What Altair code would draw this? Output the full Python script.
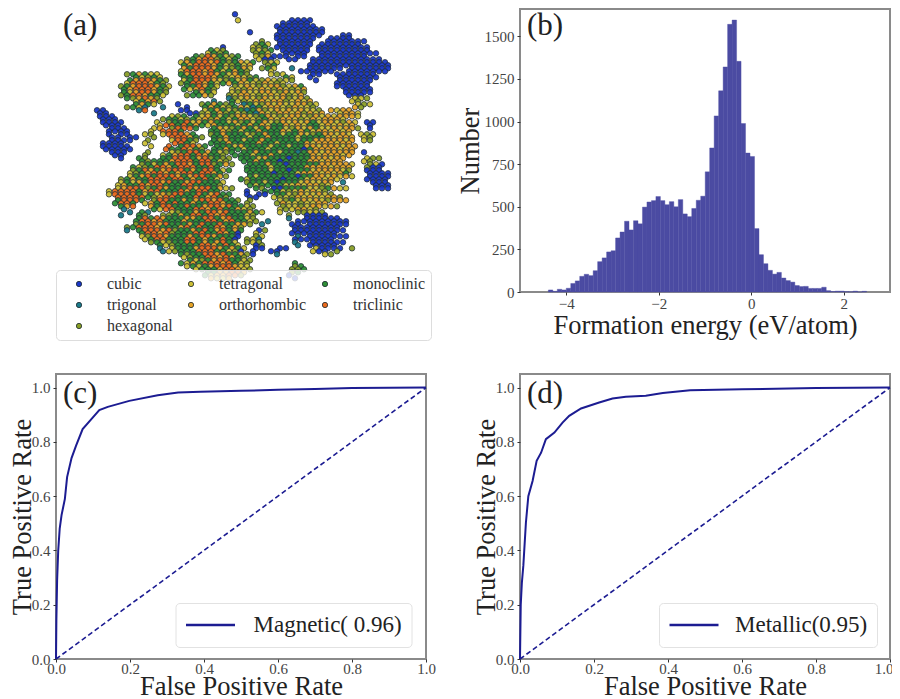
import altair as alt
import pandas as pd

SERIF = "Liberation Serif"

# ---- panel (a): class of each dot, row by row
CLASS_KEYS = {"b": "cubic", "t": "trigonal", "h": "hexagonal", "y": "tetragonal",
              "o": "orthorhombic", "g": "monoclinic", "r": "triclinic"}
LEGEND_ORDER = ["cubic", "tetragonal", "monoclinic", "trigonal", "orthorhombic", "triclinic", "hexagonal"]
LEGEND_COLORS = ["#1a37c8", "#cdbf35", "#2f8f36", "#1b7b8a", "#e6a326", "#ea6a1c", "#8a9f26"]
SCATTER_ROWS = [
    "                        b",
    "                        y        bbbb",
    "                               bbbbbbb",
    "                          b    bbbbbbbb",
    "                               bbbbbbb  bbbb",
    "                           hgy bbbbbb bbbbbbb",
    "                    gyh    hyhg bbbbb bbbbbbbbb",
    "                 ghrogyhg  yhobbb bb  bbbbbbbb",
    "               yogrrorghgoyg hyy     bbbbbbbbbbbbb",
    "               ogrrrogyhgoy hgy  t  bbbbbb bbbbbbb",
    "      hgogyy   gorrorogyogh   yhy    bb  bbbbbbb",
    "      gorrogh  ygrrroyhgyogyhoyhyh   b   bbbbbb",
    "     hgorrrogy  ggrogy  hyoyhyoohyog     bbbbbb",
    "     gyorrogh    gogy  yhoyyooyhoyoh      bbbbb",
    "      ghoroh           thyoyhoyyohyoh       yyh",
    "       gogy   b   hgoghg tgyhoyoyyoohy      yhy",
    " bb     tr     bb  ygogyhgtgohyoyoyoyyh oyoo",
    " bbb         yhg gyogyghooyhgoyhyooyhoyoyoooy",
    "  bbbb     y hggryogoggyohgygoyhoyoyogyooyhoy bb",
    "   bbb    yo hrrrg  goyhgogygoggyhoyogyyoyooh b",
    "   b bb  yh yrrrog  hgogggyhgoggyggoyhgooyoy yhy",
    "   bbbb  h   yrrgh  ghoggyggogggggyggoooooyo yh",
    "  bbbbb   y  r grrog gggyoggggyggyggooyoooyoo",
    "   bbb   h   yhgrrgogyhg ggogggyggtgooyooooo b",
    "     b  gh  ggrrrgorhghh gggyogggbgggoooyoo   yhh",
    "        hgygogrrogrrhgoh  gggoggbgggggoooooy  hyb",
    "       hgrogorrrgogrrgyg  ggggyggbgggyooooyh  bbb",
    "      ygorgrrrogorrggoh   gyggggggbggooyoyoy  bbbb",
    "     ygyogrrorggorrgggy   hggygbgggyoyyoo t    bbb",
    "    yorrrhgrogggrorrgoyh   gh bbggggyyhgoyy    bbb",
    "   yrrrrgygyohrrggrgorgg  b bb ggyhoyyoyh",
    "    grrrg hrrggogorrorggh h    yhgyoyoyhooo",
    "     gor  ogrrggrggorrorggyh    hyyhyooyoh",
    "      t gt   yhggogrrorgggogy  y  hhyyh",
    "        grgrogggoogrrgorggyh     t  bbbbbb",
    "       hgrrorgggogrggrggooh t    bb bbbbbbb",
    "      t grrrorhggogrgorgog  bh    bbbbbbbbb",
    "        yhrrogggogrrogggb  hy     t bbbbbbb",
    "          hgyhggrrgogorgy hyh     t  bbbbbb",
    "           t ygggorrrogogy bb  bb    ybbbb h",
    "               ghggrrorggohb   t       yh",
    "                gyhgorrggyh",
    "                ygygorrroyy       hg",
    "                   ggoorro       hg",
    "                    oyyo          b",
]
# a second reading of the same clouds, half a cell lower
SCATTER_ROWS_2 = [
    "",
    "                                bbbbb",
    "                               bbbbbbbb",
    "                               bbbbbbbb   bb",
    "                            h  bbbbbb  bbbbbbb",
    "                      b    yhg bbbbbb bbbbbbbbb",
    "                   yghg    hgy  bbbb  bbbbbbbbbb",
    "                hgorrhgyg   ybb  bb  bbbbbbbbbbbb",
    "               gorrrogyhgyo  hg     bbbbbbbbbbbbbb",
    "               yrrrorgygogh   y    bbbbbb  bbbbbbb",
    "       gyhgy   ggrrroghyoyhg    gy  b    bbbbbbb",
    "      yrrrogh  hgrrogygogoyyhoyhy        bbbbbb",
    "     gorrrogh  gyorgh  yyhoyoyhoyhyo      bbbbb",
    "     hgrroggy   hggoh  hyooyhyoyohyo       bbb",
    "       ygorh        t  gyhyooyoohyoyo      yh",
    "      hgyt  t   b  gogyhgoytgyooyhoyyh      oh",
    " bb       t     bbhygohgyhgtoyhooyohoyo  yooy",
    "  bbb       hggyhgyohogygooyhgoyooyhyoyoooy",
    "  bbb      yrrgrgogyogggygogoyggoyoyggyoyoyo  b",
    "   bbbb   y rrrg    ggohgyggogggoygogyooyoyo",
    "   bb bb  h  rrrogh ggogggyggoggggyggggoyooo yh",
    "  bbbb   y    rrgy  gggoggggoggyggggoyoooyoo",
    "  bbbbb     rggrogh ggoggygggygggggbgooooyoo",
    "    bb   h  ygorrgroggh gggyggoggggggoyoooyo",
    "        ghgggorrrgrrgyh  ggogggbggggooyooo   yh",
    "       gyhgrrogrrrggrg    ggggygggggooooyooo  hbb",
    "      yhgorrogorrgrrog    ggggbgggyoooyoyog   bbbb",
    "     hgoggrrrgrrgogrgy   gygggggbgggyooyoy    bbbb",
    "    yoggrorrgggrrggggh    gyggggyyoyoohy       bbb",
    "   yrrrrgorrgggrogrrgg    b  gggyhyoyoyh",
    "    rrrrrghorrgggrgorgh   bb  yhyhoyoyyooh",
    "    grrg yogrgrggoggrrogg h    hoyyhyyoo",
    "     t    gyrrgggrrogrggoyh    yhyooyh",
    "     t  gh  hhgogrrgrorgggyh     h  bbbb",
    "       grrorgggogggrrgorggyh t    bbbbbbbbb",
    "      hgrrrogggorgrggrogoh        bbbbbbbb",
    "        grrorhgggrrggrogb  y     bbbbbbbb",
    "         ygrrgggrrgoggrgb hyt     bbbbbbb",
    "           gyhggggrrogrgy  bh     t bbbbb",
    "            tyhgggrrrggyhb b  bb     ybb h",
    "               yhggrrorogh",
    "               gyogrrrorgyh       g",
    "                 ygggorroyh      hhg",
    "                   gyoorrh       b",
]

# ---- panel (b): histogram counts, bin start and width in eV/atom
HIST_START = -4.387
HIST_WIDTH = 0.0969
HIST_COUNTS = [12, 4, 16, 12, 22, 50, 65, 92, 104, 96, 125, 178, 200, 235, 242, 317, 352, 415,
               364, 418, 400, 498, 528, 536, 560, 536, 512, 530, 500, 542, 458, 442, 490, 538,
               562, 705, 845, 1033, 1180, 1320, 1570, 1595, 1353, 988, 815, 795, 372, 219, 166,
               127, 105, 115, 82, 67, 58, 38, 32, 33, 21, 21, 21, 28, 8, 3, 5, 5, 2, 1, 5, 0, 4]

# ---- panels (c), (d): ROC curves
C_FPR = [0, 0.001, 0.003, 0.006, 0.01, 0.015, 0.024, 0.03, 0.042, 0.054, 0.072, 0.095, 0.117,
         0.14, 0.198, 0.275, 0.33, 0.39, 0.5, 0.6, 0.7, 0.8, 0.9, 1.0]
C_TPR = [0, 0.14, 0.29, 0.40, 0.48, 0.53, 0.59, 0.67, 0.74, 0.785, 0.847, 0.883, 0.917,
         0.929, 0.951, 0.972, 0.982, 0.985, 0.988, 0.992, 0.995, 0.998, 0.999, 1.0]
D_FPR = [0, 0.002, 0.005, 0.009, 0.016, 0.0225, 0.034, 0.045, 0.057, 0.07, 0.093, 0.115, 0.133,
         0.165, 0.214, 0.25, 0.286, 0.34, 0.386, 0.46, 0.6, 0.8, 1.0]
D_TPR = [0, 0.20, 0.28, 0.344, 0.503, 0.60, 0.656, 0.73, 0.76, 0.81, 0.834, 0.871, 0.896,
         0.923, 0.945, 0.96, 0.966, 0.97, 0.98, 0.99, 0.994, 0.998, 1.0]
DIAG = [0, 1]

BAR_COLOR = "#4b4ba2"
LINE_COLOR = "#1c1c92"
FRAME = "#8a8a8a"

points = []
for i in range(max(len(SCATTER_ROWS), len(SCATTER_ROWS_2))):
    row1 = SCATTER_ROWS[i] if i < len(SCATTER_ROWS) else ""
    row2 = SCATTER_ROWS_2[i] if i < len(SCATTER_ROWS_2) else ""
    for j, ch in enumerate(row1):
        if ch != " ":
            points.append({"px": 90 + 6 * j + (3 if i % 2 else 0), "py": 13.3 + 6 * i,
                           "cls": CLASS_KEYS[ch]})
    for j, ch in enumerate(row2):
        if ch != " ":
            points.append({"px": 90 + 6 * j + (0 if i % 2 else 3), "py": 16.3 + 6 * i,
                           "cls": CLASS_KEYS[ch]})
scatter_df = pd.DataFrame(points)


def panel_label(text, x=8, y=26):
    return alt.Chart(pd.DataFrame({"t": [text]})).mark_text(
        font=SERIF, fontSize=31, align="left", baseline="alphabetic", color="#222222"
    ).encode(x=alt.value(x), y=alt.value(y), text="t:N")


a = alt.layer(
    alt.Chart(scatter_df).mark_circle(size=30, opacity=0.95, stroke="#1d2a30", strokeWidth=0.8).encode(
        x=alt.X("px:Q", scale=alt.Scale(domain=[55, 425]), axis=None),
        y=alt.Y("py:Q", scale=alt.Scale(domain=[291, 8]), axis=None),
        color=alt.Color("cls:N", scale=alt.Scale(domain=LEGEND_ORDER, range=LEGEND_COLORS),
                        legend=alt.Legend(
                            orient="none", legendX=0, legendY=261, columns=3, title=None,
                            direction="horizontal",
                            fillColor="rgba(255,255,255,0.82)", strokeColor="#dddddd", cornerRadius=4,
                            padding=6, labelFont=SERIF, labelFontSize=16, labelColor="#333333",
                            symbolType="circle", symbolSize=28, symbolStrokeColor="#1d2a30",
                            symbolStrokeWidth=0.8, labelOffset=20, columnPadding=1, rowPadding=5,
                            symbolOffset=9, gridAlign="each", symbolOpacity=1)),
    ),
    panel_label("(a)", x=7, y=26),
).properties(width=370, height=283, view=alt.ViewBackground(stroke="transparent"))

hist_df = pd.DataFrame({
    "x0": [HIST_START + HIST_WIDTH * k for k in range(len(HIST_COUNTS))],
    "x1": [HIST_START + HIST_WIDTH * (k + 1) for k in range(len(HIST_COUNTS))],
    "n": HIST_COUNTS,
})
b = alt.layer(
    alt.Chart(hist_df).mark_rect(color=BAR_COLOR, stroke=BAR_COLOR, strokeWidth=0.4).encode(
        x=alt.X("x0:Q", scale=alt.Scale(domain=[-5, 3], nice=False),
                axis=alt.Axis(values=[-4, -2, 0, 2], format="d", title="Formation energy (eV/atom)",
                              labelPadding=1, titleBaseline="alphabetic", titleY=41)),
        x2="x1:Q",
        y=alt.Y("n:Q", scale=alt.Scale(domain=[0, 1660], nice=False),
                axis=alt.Axis(values=[0, 250, 500, 750, 1000, 1250, 1500], format="d", title="Number",
                              titleX=-36)),
    ),
    panel_label("(b)", x=7, y=26),
).properties(width=370, height=283)


def roc(fpr, tpr, name, letter, lx, ly, off, flush_last=False):
    curve_df = pd.DataFrame({"fpr": fpr, "tpr": tpr, "name": [name] * len(fpr)})
    extra = {}
    if flush_last:
        extra = dict(labelAlign={"condition": {"test": "datum.value == 1", "value": "right"}, "value": "center"},
                     labelOffset={"condition": {"test": "datum.value == 1", "value": 3}, "value": 0})
    xx = alt.X("fpr:Q", scale=alt.Scale(domain=[0, 1], nice=False),
               axis=alt.Axis(values=[0, 0.2, 0.4, 0.6, 0.8, 1.0], format=".1f",
                             title="False Positive Rate", labelPadding=-1,
                             titleBaseline="alphabetic", titleY=35, **extra))
    yy = alt.Y("tpr:Q", scale=alt.Scale(domain=[0, 1.05], nice=False),
               axis=alt.Axis(values=[0, 0.2, 0.4, 0.6, 0.8, 1.0], format=".1f",
                             title="True Positive Rate", titleX=-20))
    diag = alt.Chart(pd.DataFrame({"fpr": DIAG, "tpr": DIAG})).mark_line(
        color=LINE_COLOR, strokeWidth=1.6, strokeDash=[5, 3]).encode(x=xx, y=yy)
    curve = alt.Chart(curve_df).mark_line(strokeWidth=2).encode(
        x=xx, y=yy,
        color=alt.Color("name:N", scale=alt.Scale(domain=[name], range=[LINE_COLOR]),
                        legend=alt.Legend(
                            orient="none", legendX=lx, legendY=ly, title=None,
                            fillColor="white", strokeColor="#e2e2e2", cornerRadius=4, padding=9,
                            labelFont=SERIF, labelFontSize=23, labelColor="#222222", labelLimit=400,
                            symbolType="stroke", symbolSize=2401, symbolStrokeWidth=2.4,
                            clipHeight=26, labelOffset=off)),
    )
    return alt.layer(diag, curve, panel_label(letter, x=7, y=29)).properties(width=370, height=285)


c = roc(C_FPR, C_TPR, "Magnetic( 0.96)", "(c)", 119.5, 229, 17)
d = roc(D_FPR, D_TPR, "Metallic(0.95)", "(d)", 139, 229, 15, flush_last=True)

chart = alt.concat(a, b, c, d, columns=2, spacing=alt.RowColnumber(row=82, column=94), bounds="flush").resolve_scale(
    color="independent"
).properties(
    padding={"left": -1, "top": 0, "right": -3, "bottom": 0},
).configure_view(stroke=FRAME, strokeWidth=2).configure_axis(
    domain=False, grid=False, tickSize=3, tickColor="#333333", tickWidth=1,
    labelFont=SERIF, labelFontSize=15, labelColor="#444444", labelOverlap=False, labelPadding=3,
    labelFlush=False, titleFont=SERIF, titleFontSize=26.5, titleFontWeight="normal", titleColor="#222222",
)

chart.save("out.html", embed_options={"renderer": "svg", "actions": False})
